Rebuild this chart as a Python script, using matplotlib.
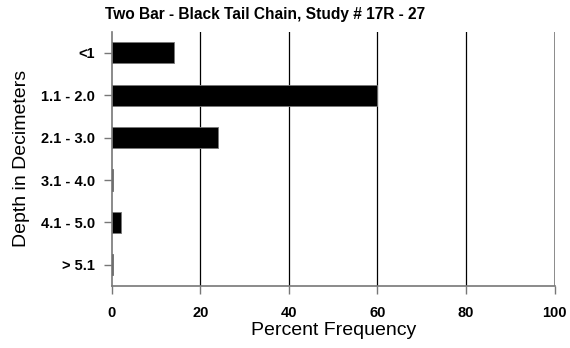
import matplotlib
matplotlib.use("Agg")
import matplotlib.pyplot as plt

categories = ["<1", "1.1 - 2.0", "2.1 - 3.0", "3.1 - 4.0", "4.1 - 5.0", "> 5.1"]
values = [14, 60, 24, 0.2, 2, 0.2]
xticks = [0, 20, 40, 60, 80, 100]

plt.rcParams['font.family'] = ['Liberation Sans', 'DejaVu Sans']

fig = plt.figure(figsize=(5.7, 3.48), dpi=100)
ax = fig.add_axes([0.196, 0.178, 0.777, 0.731])

ypos = list(range(len(categories)))
ax.barh(ypos, values, height=0.5, color='black', edgecolor='#777777', linewidth=0.6, zorder=3)

for xv in xticks[1:-1]:
    ax.axvline(xv, color='black', linewidth=0.9, zorder=2)
ax.axvline(xticks[-1], color='#777777', linewidth=1.2, zorder=2)

ax.set_xlim(0, 100)
ax.set_ylim(len(categories) - 0.5, -0.5)
ax.set_yticks(ypos)
ax.set_yticklabels(categories, fontweight='bold', fontsize=10.5)
ax.set_xticks(xticks)
ax.set_xticklabels([str(x) for x in xticks], fontweight='bold', fontsize=10.5)

for s in ['top', 'right']:
    ax.spines[s].set_visible(False)
for s in ['left', 'bottom']:
    ax.spines[s].set_color('#777777')
    ax.spines[s].set_linewidth(1.2)
ax.tick_params(axis='y', colors='#777777', labelcolor='black', width=1.0, length=6, pad=6)
ax.tick_params(axis='x', colors='#777777', labelcolor='black', width=1.0, length=6, pad=8)

ax.set_xlabel("Percent Frequency", fontsize=14, labelpad=2)
ax.set_ylabel("Depth in Decimeters", fontsize=14, labelpad=8)

fig.text(0.465, 0.957, "Two Bar - Black Tail Chain, Study # 17R - 27", ha='center', va='center',
         fontweight='bold', fontsize=11.2)

fig.savefig("out.png", dpi=100)
